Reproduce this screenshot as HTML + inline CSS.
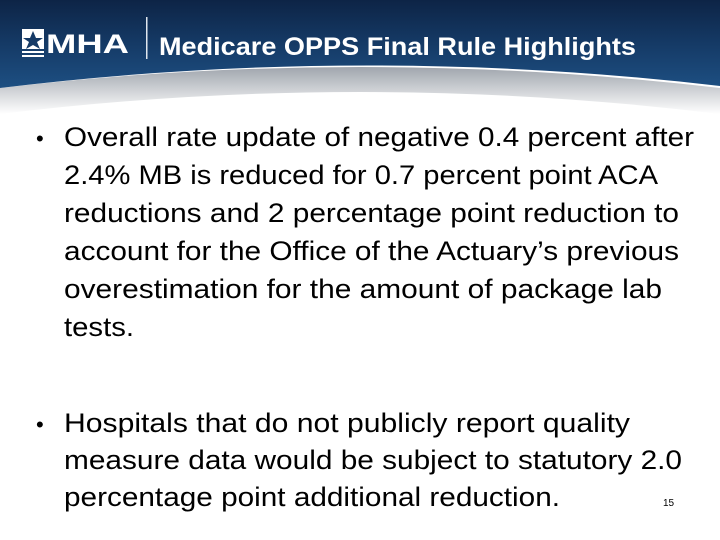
<!DOCTYPE html>
<html><head><meta charset="utf-8"><style>
html,body{margin:0;padding:0;background:#fff;width:720px;height:540px;overflow:hidden}
svg{display:block}
text{font-family:"Liberation Sans",sans-serif}
</style></head><body>
<svg width="720" height="540" viewBox="0 0 720 540">
<defs>
<linearGradient id="hdr" x1="0" y1="0" x2="0" y2="1">
<stop offset="0" stop-color="#0d2446"/><stop offset="0.5" stop-color="#153a66"/><stop offset="1" stop-color="#1d4f82"/>
</linearGradient>
<linearGradient id="shd" x1="0" y1="0" x2="0" y2="1">
<stop offset="0" stop-color="#8f969f"/><stop offset="1" stop-color="#ffffff"/>
</linearGradient>
</defs>
<path d="M0,88 Q360,46 720,88 L720,114 Q360,70 0,114 Z" fill="url(#shd)" opacity="0.85"/>
<path d="M0,0 H720 V86 Q360,44 0,88 Z" fill="url(#hdr)"/>
<g>
<rect x="22" y="29" width="22" height="20" fill="#fff"/>
<polygon points="33,31 36,38 43,38 37,42 40,49 33,45 26,49 29,42 23,38 30,38" fill="#153a66"/>
<rect x="22" y="51" width="22" height="2" fill="#fff"/>
<rect x="22" y="55" width="22" height="2" fill="#fff"/>
<text x="46" y="53" font-size="27" font-weight="bold" fill="#fff" textLength="83" lengthAdjust="spacingAndGlyphs">MHA</text>
</g>
<rect x="146" y="17" width="1.5" height="42" fill="#dfe6ee"/>
<text x="159" y="55" font-size="25" font-weight="bold" fill="#fff" textLength="477" lengthAdjust="spacingAndGlyphs">Medicare OPPS Final Rule Highlights</text>
<g font-size="27" fill="#000">
<text x="36" y="146" font-size="22">•</text>
<text x="64" y="146" textLength="630" lengthAdjust="spacingAndGlyphs">Overall rate update of negative 0.4 percent after</text>
<text x="64" y="184" textLength="594" lengthAdjust="spacingAndGlyphs">2.4% MB is reduced for 0.7 percent point ACA</text>
<text x="64" y="222" textLength="615" lengthAdjust="spacingAndGlyphs">reductions and 2 percentage point reduction to</text>
<text x="64" y="260" textLength="615" lengthAdjust="spacingAndGlyphs">account for the Office of the Actuary’s previous</text>
<text x="64" y="298" textLength="598" lengthAdjust="spacingAndGlyphs">overestimation for the amount of package lab</text>
<text x="64" y="336" textLength="70" lengthAdjust="spacingAndGlyphs">tests.</text>
</g>
<g font-size="27" fill="#000">
<text x="36" y="432" font-size="22">•</text>
<text x="64" y="432" textLength="566" lengthAdjust="spacingAndGlyphs">Hospitals that do not publicly report quality</text>
<text x="64" y="469" textLength="618" lengthAdjust="spacingAndGlyphs">measure data would be subject to statutory 2.0</text>
<text x="64" y="506" textLength="496" lengthAdjust="spacingAndGlyphs">percentage point additional reduction.</text>
</g>
<text x="663" y="506" font-size="10" fill="#000">15</text>
</svg>
</body></html>
